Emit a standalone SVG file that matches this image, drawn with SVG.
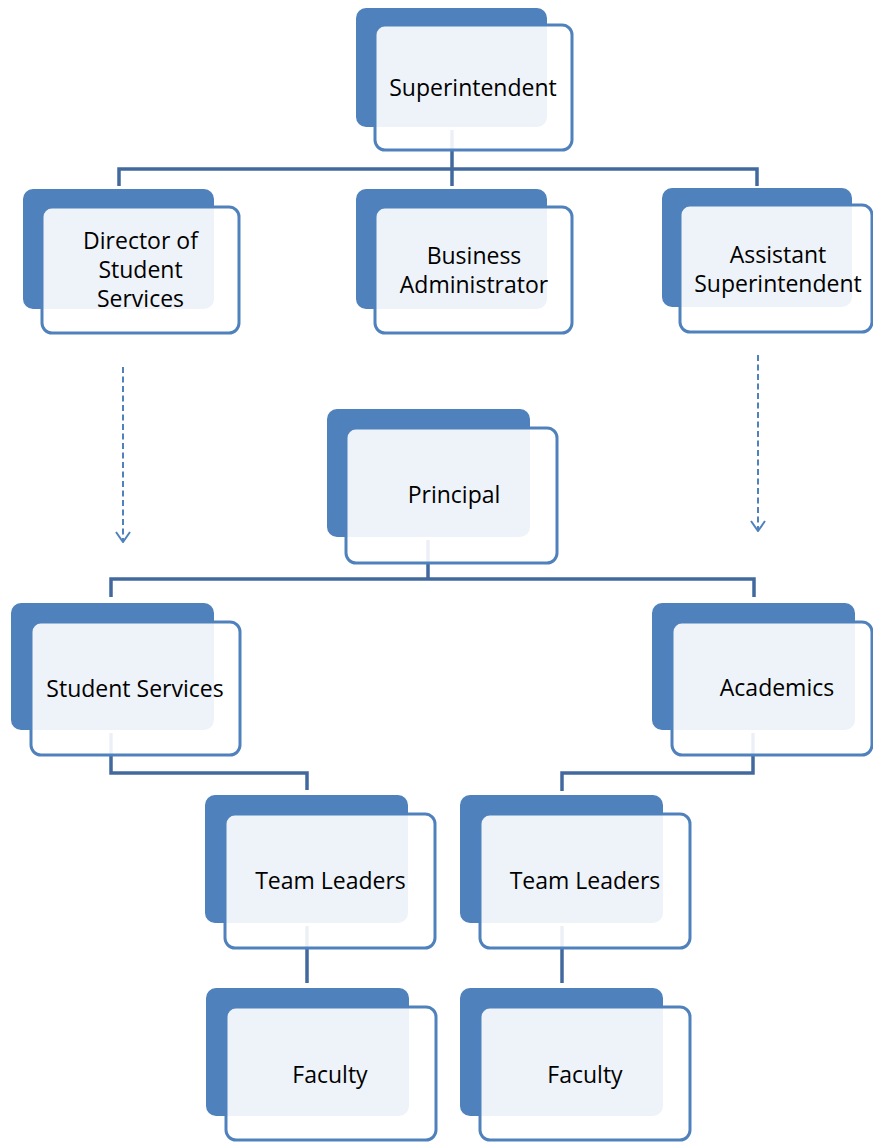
<svg xmlns="http://www.w3.org/2000/svg" width="873" height="1142" viewBox="0 0 873 1142">
  <style>
    .back { fill: #4F81BD; }
    .front { fill: #FFFFFF; fill-opacity: 0.9; stroke: #4F81BD; stroke-width: 3; }
    .link { fill: none; stroke: #41699E; stroke-width: 3.5; }
    .dash { fill: none; stroke: #4F81BD; stroke-width: 2; stroke-dasharray: 6 3.5; }
    .label { font-family: "Open Sans", "Noto Sans", sans-serif; font-size: 23px; fill: #000000; text-anchor: middle; }
  </style>
  <defs>
    <marker id="openArrow" viewBox="0 0 12 16" refX="11" refY="8" markerWidth="12" markerHeight="16" markerUnits="userSpaceOnUse" orient="auto">
      <path d="M1,1 L11,8 L1,15" fill="none" stroke="#4F81BD" stroke-width="2"/>
    </marker>
  </defs>

  <rect width="873" height="1142" fill="#FFFFFF"/>

  <!-- connectors (drawn beneath the boxes) -->
  <g id="connectors">
    <path class="link" d="M452,130 V169 M119,186 V169 H757 V186 M452,169 V186"/>
    <path class="link" d="M428,540 V579 M111,597 V579 H754 V597"/>
    <path class="link" d="M111,733 V773 H307 V790"/>
    <path class="link" d="M753,733 V773 H562 V791"/>
    <path class="link" d="M307,926 V983"/>
    <path class="link" d="M562,926 V983"/>
    <path class="dash" d="M123,367 V542" marker-end="url(#openArrow)"/>
    <path class="dash" d="M758,355 V531" marker-end="url(#openArrow)"/>
  </g>

  <!-- top level -->
  <g id="superintendent">
    <rect class="back" x="356" y="8" width="191" height="119" rx="10"/>
    <rect class="front" x="375" y="25" width="197" height="125" rx="10"/>
    <text class="label" x="473" y="96">Superintendent</text>
  </g>

  <g id="director-student-services">
    <rect class="back" x="23" y="189" width="191" height="120" rx="10"/>
    <rect class="front" x="42" y="207" width="197" height="126" rx="10"/>
    <text class="label" x="140.5" y="249">Director of</text>
    <text class="label" x="140.5" y="278">Student</text>
    <text class="label" x="140.5" y="307">Services</text>
  </g>

  <g id="business-administrator">
    <rect class="back" x="356" y="189" width="191" height="120" rx="10"/>
    <rect class="front" x="375" y="207" width="197" height="126" rx="10"/>
    <text class="label" x="474" y="264">Business</text>
    <text class="label" x="474" y="293">Administrator</text>
  </g>

  <g id="assistant-superintendent">
    <rect class="back" x="662" y="188" width="190" height="119" rx="10"/>
    <rect class="front" x="680" y="205" width="192" height="127" rx="10"/>
    <text class="label" x="778" y="263">Assistant</text>
    <text class="label" x="778" y="292">Superintendent</text>
  </g>

  <!-- school level -->
  <g id="principal">
    <rect class="back" x="327" y="409" width="203" height="128" rx="10"/>
    <rect class="front" x="346" y="428" width="211" height="135" rx="10"/>
    <text class="label" x="454" y="503">Principal</text>
  </g>

  <g id="student-services">
    <rect class="back" x="11" y="603" width="203" height="127" rx="10"/>
    <rect class="front" x="31" y="622" width="209" height="133" rx="10"/>
    <text class="label" x="135" y="697">Student Services</text>
  </g>

  <g id="academics">
    <rect class="back" x="652" y="603" width="203" height="127" rx="10"/>
    <rect class="front" x="672" y="622" width="200" height="133" rx="10"/>
    <text class="label" x="777" y="696">Academics</text>
  </g>

  <g id="team-leaders-student-services">
    <rect class="back" x="205" y="795" width="203" height="128" rx="10"/>
    <rect class="front" x="225" y="814" width="210" height="134" rx="10"/>
    <text class="label" x="330.5" y="889">Team Leaders</text>
  </g>

  <g id="team-leaders-academics">
    <rect class="back" x="460" y="795" width="203" height="128" rx="10"/>
    <rect class="front" x="480" y="814" width="210" height="134" rx="10"/>
    <text class="label" x="585" y="889">Team Leaders</text>
  </g>

  <g id="faculty-student-services">
    <rect class="back" x="206" y="988" width="203" height="128" rx="10"/>
    <rect class="front" x="226" y="1007" width="210" height="133" rx="10"/>
    <text class="label" x="330" y="1083">Faculty</text>
  </g>

  <g id="faculty-academics">
    <rect class="back" x="460" y="988" width="203" height="128" rx="10"/>
    <rect class="front" x="480" y="1007" width="210" height="133" rx="10"/>
    <text class="label" x="585" y="1083">Faculty</text>
  </g>
</svg>
